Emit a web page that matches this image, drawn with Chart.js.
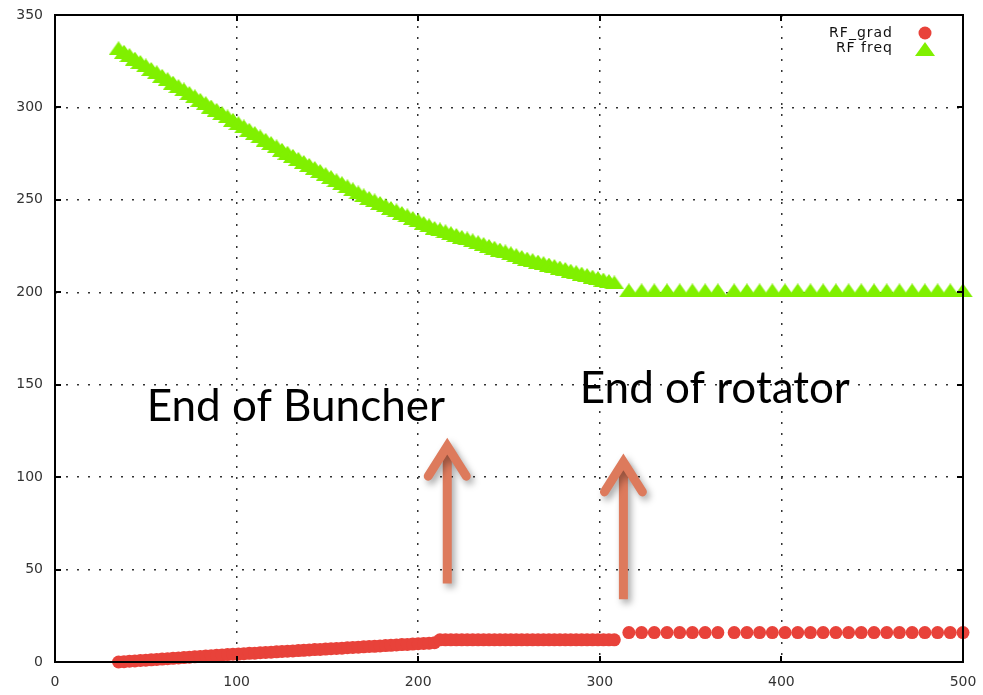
<!DOCTYPE html>
<html>
<head>
<meta charset="utf-8">
<script src="https://cdn.jsdelivr.net/npm/chart.js@4.4.1/dist/chart.umd.min.js"></script>
<style>
  html, body { margin: 0; padding: 0; background: #fff; }
  canvas { display: block; }
</style>
</head>
<body>
<canvas id="c" width="983" height="695"></canvas>
<script>
// Buncher section: position along the channel (m), gradient (MV/m), frequency (MHz)
const zBuncher = [35, 38, 41, 44, 47, 50, 53, 56, 59, 62, 65, 68, 71, 74, 77, 80, 83, 86, 89, 92,
  95, 98, 101, 104, 107, 110, 113, 116, 119, 122, 125, 128, 131, 134, 137, 140, 143, 146, 149, 152,
  155, 158, 161, 164, 167, 170, 173, 176, 179, 182, 185, 188, 191, 194, 197, 200, 203, 206, 209];
const gradBuncher = [0.0, 0.2, 0.4, 0.6, 0.8, 1.0, 1.2, 1.4, 1.6, 1.8, 2.0, 2.2, 2.4, 2.6, 2.8, 3.0, 3.2, 3.4, 3.6, 3.8,
  4.0, 4.2, 4.3, 4.5, 4.7, 4.8, 5.0, 5.2, 5.3, 5.5, 5.7, 5.8, 6.0, 6.2, 6.3, 6.5, 6.7, 6.8, 7.0, 7.2,
  7.3, 7.5, 7.7, 7.9, 8.0, 8.2, 8.4, 8.5, 8.7, 8.9, 9.0, 9.2, 9.4, 9.5, 9.7, 9.9, 10.0, 10.2, 10.4];
const freqBuncher = [332.0, 330.1, 328.3, 326.4, 324.6, 322.7, 320.8, 319.0, 317.1, 315.3, 313.4, 311.5, 309.7, 307.8, 306.0, 304.1, 302.3, 300.5, 298.7, 296.9,
  295.1, 293.3, 291.5, 289.7, 287.9, 286.1, 284.3, 282.5, 280.7, 278.9, 277.1, 275.5, 273.8, 272.2, 270.5, 268.9, 267.2, 265.6, 263.9, 262.3,
  260.6, 259.0, 257.3, 255.7, 254.0, 252.4, 251.0, 249.7, 248.3, 247.0, 245.6, 244.3, 242.9, 241.6, 240.2, 238.9, 237.5, 236.2, 234.8];

// Phase rotator
const zRotator = [212, 215, 218, 221, 224, 227, 230, 233, 236, 239, 242, 245, 248, 251, 254, 257, 260,
  263, 266, 269, 272, 275, 278, 281, 284, 287, 290, 293, 296, 299, 302, 305, 308];
const gradRotator = [12.0, 12.0, 12.0, 12.0, 12.0, 12.0, 12.0, 12.0, 12.0, 12.0, 12.0, 12.0, 12.0, 12.0, 12.0, 12.0, 12.0,
  12.0, 12.0, 12.0, 12.0, 12.0, 12.0, 12.0, 12.0, 12.0, 12.0, 12.0, 12.0, 12.0, 12.0, 12.0, 12.0];
const freqRotator = [234.0, 233.0, 232.0, 231.0, 230.0, 229.1, 228.1, 227.1, 226.1, 225.1, 224.1, 223.1, 222.1, 221.1, 220.1, 219.1, 218.2,
  217.4, 216.6, 215.8, 215.0, 214.2, 213.4, 212.6, 211.7, 210.9, 210.1, 209.3, 208.5, 207.7, 206.9, 206.1, 205.3];

// Cooling channel (two runs of cells with a short gap between them)
const zCooler = [316, 323, 330, 337, 344, 351, 358, 365,
  374, 381, 388, 395, 402, 409, 416, 423, 430, 437, 444, 451, 458, 465, 472, 479, 486, 493, 500];
const gradCooler = [15.9, 15.9, 15.9, 15.9, 15.9, 15.9, 15.9, 15.9,
  15.9, 15.9, 15.9, 15.9, 15.9, 15.9, 15.9, 15.9, 15.9, 15.9, 15.9, 15.9, 15.9, 15.9, 15.9, 15.9, 15.9, 15.9, 15.9];
const freqCooler = [201, 201, 201, 201, 201, 201, 201, 201,
  201, 201, 201, 201, 201, 201, 201, 201, 201, 201, 201, 201, 201, 201, 201, 201, 201, 201, 201];

const seriesNames = ['RF_grad', 'RF freq'];
const xTicks = [0, 100, 200, 300, 400, 500];
const yTicks = [0, 50, 100, 150, 200, 250, 300, 350];

// Annotations placed in data coordinates
const notes = [
  { text: 'End of Buncher', x: 50.5, y: 130.5 },
  { text: 'End of rotator', x: 289, y: 140 }
];
const arrows = [
  { x: 216, from: 42.5, to: 120 },
  { x: 313, from: 34, to: 111.5 }
];

const zAll = zBuncher.concat(zRotator, zCooler);
const gradAll = gradBuncher.concat(gradRotator, gradCooler);
const freqAll = freqBuncher.concat(freqRotator, freqCooler);
const toPoints = vals => zAll.map((z, i) => ({ x: z, y: vals[i] }));

const RED = '#e8423a';
const GREEN = '#80f000';
const ARROW = '#dd7a5c';

// wide, flat triangle marker
function triangleMarker(w, h, color) {
  const c = document.createElement('canvas');
  c.width = w; c.height = h;
  const g = c.getContext('2d');
  g.fillStyle = color;
  g.beginPath();
  g.moveTo(w / 2, 0);
  g.lineTo(w, h);
  g.lineTo(0, h);
  g.closePath();
  g.fill();
  return c;
}
const triMark = triangleMarker(20, 14, GREEN);

const overlay = {
  id: 'overlay',
  afterDatasetsDraw(chart) {
    const { ctx, chartArea: a, scales: { x, y } } = chart;
    ctx.save();
    ctx.strokeStyle = '#000';
    ctx.lineWidth = 2;
    ctx.beginPath();
    x.ticks.forEach(t => {
      const px = Math.round(x.getPixelForValue(t.value));
      ctx.moveTo(px, a.bottom); ctx.lineTo(px, a.bottom - 6);
      ctx.moveTo(px, a.top); ctx.lineTo(px, a.top + 6);
    });
    y.ticks.forEach(t => {
      const py = Math.round(y.getPixelForValue(t.value));
      ctx.moveTo(a.left, py); ctx.lineTo(a.left + 6, py);
      ctx.moveTo(a.right, py); ctx.lineTo(a.right - 6, py);
    });
    ctx.stroke();
    ctx.strokeRect(a.left, a.top, a.right - a.left, a.bottom - a.top);
    ctx.restore();
  },
  afterDraw(chart) {
    const { ctx, scales: { x, y } } = chart;
    ctx.save();

    // key: label text, then the marker sample
    ctx.font = '14px "DejaVu Sans"';
    ctx.textAlign = 'right';
    ctx.textBaseline = 'alphabetic';
    if ('letterSpacing' in ctx) ctx.letterSpacing = '1px';
    chart.data.datasets.forEach((ds, i) => {
      const base = 37 + i * 15;
      ctx.fillStyle = '#111';
      ctx.fillText(ds.label, 893, base);
      ctx.fillStyle = ds.backgroundColor;
      Chart.helpers.drawPoint(ctx, {
        pointStyle: ds.pointStyle, radius: ds.pointRadius, borderWidth: 0
      }, 925, base - 4 + i);
    });
    if ('letterSpacing' in ctx) ctx.letterSpacing = '0px';

    // arrows
    ctx.strokeStyle = ARROW;
    ctx.lineWidth = 9;
    ctx.shadowColor = 'rgba(0,0,0,0.35)';
    ctx.shadowBlur = 7;
    ctx.shadowOffsetX = 3;
    ctx.shadowOffsetY = 4;
    arrows.forEach(ar => {
      const px = x.getPixelForValue(ar.x);
      const p0 = y.getPixelForValue(ar.from);
      const p1 = y.getPixelForValue(ar.to);
      ctx.lineCap = 'butt';
      ctx.beginPath();
      ctx.moveTo(px, p0);
      ctx.lineTo(px, p1 + 8);
      ctx.stroke();
      ctx.lineCap = 'round';
      ctx.lineJoin = 'miter';
      ctx.beginPath();
      ctx.moveTo(px - 19, p1 + 36);
      ctx.lineTo(px, p1 + 6);
      ctx.lineTo(px + 19, p1 + 36);
      ctx.stroke();
    });
    ctx.shadowColor = 'transparent';

    // notes
    ctx.font = '44px Lato';
    ctx.fillStyle = '#000';
    ctx.textAlign = 'left';
    notes.forEach(n => {
      ctx.fillText(n.text, x.getPixelForValue(n.x), y.getPixelForValue(n.y));
    });
    ctx.restore();
  }
};

const tickFont = { family: '"DejaVu Sans"', size: 14 };

new Chart(document.getElementById('c'), {
  type: 'scatter',
  data: {
    datasets: [
      {
        label: seriesNames[0],
        data: toPoints(gradAll),
        pointStyle: 'circle',
        pointRadius: 6.5,
        borderWidth: 0,
        backgroundColor: RED,
        borderColor: RED,
        clip: false
      },
      {
        label: seriesNames[1],
        data: toPoints(freqAll),
        pointStyle: triMark,
        pointRadius: 9,
        borderWidth: 0,
        backgroundColor: GREEN,
        borderColor: GREEN,
        clip: false
      }
    ]
  },
  options: {
    responsive: false,
    animation: false,
    events: [],
    layout: { padding: { top: 15, right: 20, left: 0, bottom: 0 } },
    plugins: { legend: { display: false }, tooltip: { enabled: false } },
    elements: { point: { hoverRadius: 0 } },
    scales: {
      x: {
        type: 'linear',
        min: 0, max: 500,
        afterBuildTicks: s => { s.ticks = xTicks.map(v => ({ value: v })); },
        afterFit: s => { s.height = 33; s.paddingLeft = 0; s.paddingRight = 0; },
        ticks: { font: tickFont, color: '#333', padding: 12, maxRotation: 0 },
        grid: { color: '#333', lineWidth: 1.5, drawTicks: false },
        border: { display: false, dash: [2, 9] }
      },
      y: {
        type: 'linear',
        min: 0, max: 350,
        afterBuildTicks: s => { s.ticks = yTicks.map(v => ({ value: v })); },
        afterFit: s => { s.width = 55; s.paddingTop = 0; s.paddingBottom = 0; },
        ticks: { font: tickFont, color: '#333', padding: 12 },
        grid: { color: '#333', lineWidth: 1.5, drawTicks: false },
        border: { display: false, dash: [2, 9] }
      }
    }
  },
  plugins: [overlay]
});
</script>
</body>
</html>
